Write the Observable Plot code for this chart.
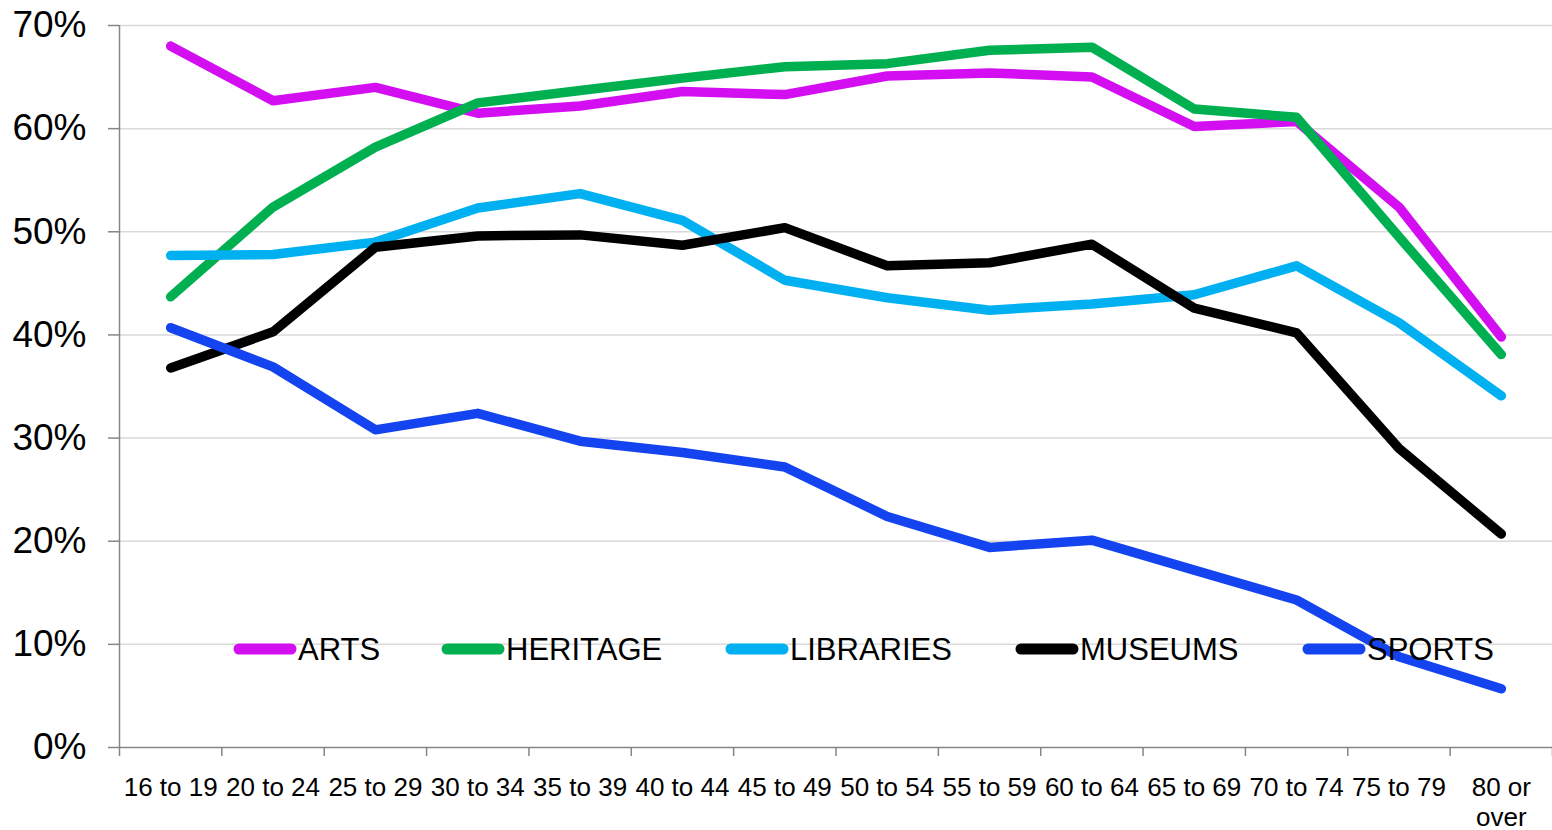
<!DOCTYPE html>
<html>
<head>
<meta charset="utf-8">
<script src="https://cdn.jsdelivr.net/npm/d3@7"></script>
<script src="https://cdn.jsdelivr.net/npm/@observablehq/plot@0.6"></script>
<style>
  html, body { margin: 0; padding: 0; background: #fff; }
  #chart { width: 1552px; height: 830px; }
</style>
</head>
<body>
<div id="chart"></div>
<script>
const categories = ["16 to 19", "20 to 24", "25 to 29", "30 to 34", "35 to 39", "40 to 44", "45 to 49",
  "50 to 54", "55 to 59", "60 to 64", "65 to 69", "70 to 74", "75 to 79", "80 or\nover"];

const arts      = [68.0, 62.7, 64.0, 61.5, 62.2, 63.6, 63.3, 65.1, 65.4, 65.0, 60.2, 60.7, 52.4, 39.8];
const heritage  = [43.7, 52.4, 58.2, 62.5, 63.7, 64.9, 66.0, 66.3, 67.6, 67.9, 61.9, 61.1, 49.5, 38.1];
const libraries = [47.7, 47.8, 49.0, 52.3, 53.7, 51.1, 45.3, 43.6, 42.4, 43.0, 43.9, 46.7, 41.2, 34.1];
const museums   = [36.8, 40.3, 48.5, 49.6, 49.7, 48.7, 50.4, 46.7, 47.0, 48.8, 42.6, 40.2, 29.0, 20.7];
const sports    = [40.7, 36.9, 30.8, 32.4, 29.7, 28.6, 27.2, 22.4, 19.4, 20.1, 17.2, 14.3, 8.8, 5.7];

const seriesNames  = ["ARTS", "HERITAGE", "LIBRARIES", "MUSEUMS", "SPORTS"];
const seriesValues = [arts, heritage, libraries, museums, sports];
const seriesColors = ["#D30FF2", "#00B050", "#00B0F0", "#000000", "#1444F0"];

const yTicks = [0, 10, 20, 30, 40, 50, 60, 70];

const rows = seriesNames.flatMap((name, s) =>
  seriesValues[s].map((v, i) => ({series: name, i, value: v})));

const centers = categories.map((_, i) => i);
const boundaries = d3.range(categories.length + 1).map(i => i - 0.5);

const axisGrey = "#868686";

const chart = Plot.plot({
  width: 1552,
  height: 830,
  marginLeft: 119,
  marginRight: 0,
  marginTop: 25,
  marginBottom: 83,
  style: {fontFamily: "'Liberation Sans', Arial, sans-serif", background: "#fff", color: "#000", overflow: "visible"},
  x: {type: "linear", domain: [-0.5, categories.length - 0.5]},
  y: {domain: [0, 70]},
  color: {domain: seriesNames, range: seriesColors},
  marks: [
    Plot.gridY(yTicks.filter(d => d > 0), {stroke: "#d9d9d9", strokeOpacity: 1, strokeWidth: 1.5}),
    Plot.axisY(yTicks, {tickSize: 11, tickPadding: 22, fontSize: 37, tickFormat: d => d + "%",
      stroke: axisGrey, strokeWidth: 1.5, label: null}),
    Plot.axisX(boundaries, {tickSize: 9, tickFormat: () => "", stroke: axisGrey, strokeWidth: 1.5, label: null}),
    Plot.axisX(centers, {tickSize: 0, tickPadding: 27, fontSize: 26, lineHeight: 1.15,
      tickFormat: i => categories[i], label: null}),
    Plot.ruleX([-0.5], {stroke: axisGrey, strokeWidth: 1.5}),
    Plot.ruleY([0], {stroke: axisGrey, strokeWidth: 1.5}),
    Plot.line(rows, {x: "i", y: "value", z: "series", stroke: "series",
      strokeWidth: 9.5, strokeLinecap: "round", strokeLinejoin: "round"})
  ]
});

document.getElementById("chart").appendChild(chart);

// Legend drawn inside the plot area, on top of the lines
const legendStarts = [234, 442, 726, 1016, 1303];
const legendY = 649;
const svg = d3.select(chart);
const lg = svg.append("g").attr("class", "legend").attr("text-anchor", "start");
seriesNames.forEach((name, k) => {
  const x0 = legendStarts[k];
  lg.append("line")
    .attr("x1", x0 + 5).attr("x2", x0 + 57)
    .attr("y1", legendY).attr("y2", legendY)
    .attr("stroke", seriesColors[k]).attr("stroke-width", 11)
    .attr("stroke-linecap", "round");
  lg.append("text")
    .attr("x", x0 + 64).attr("y", legendY).attr("dy", "0.36em")
    .attr("text-anchor", "start")
    .attr("font-size", 31).attr("fill", "#000")
    .attr("font-family", "'Liberation Sans', Arial, sans-serif")
    .text(name);
});
</script>
</body>
</html>
